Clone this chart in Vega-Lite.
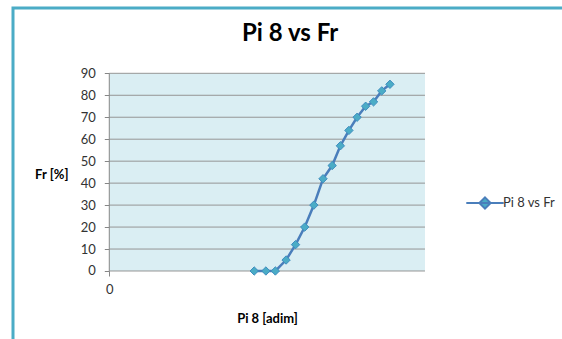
{
  "$schema": "https://vega.github.io/schema/vega-lite/v6.json",
  "usermeta": {"embedOptions": {"actions": false}},
  "autosize": {"type": "none"},
  "padding": {"left": 13, "top": 8, "right": -91, "bottom": -69},
  "width": 640,
  "height": 400,
  "background": "white",
  "config": {
    "view": {"stroke": "#4BACC6", "strokeWidth": 3, "fill": "white"},
    "font": "Lato"
  },
  "title": {
    "text": "Pi 8 vs Fr",
    "fontSize": 24,
    "fontWeight": "bold",
    "font": "Lato",
    "color": "#000000",
    "anchor": "start",
    "frame": "group",
    "offset": -57,
    "baseline": "alphabetic",
    "dx": 229
  },
  "datasets": {
    "series": [
      {"x": 0.459, "fr": 0, "series": "Pi 8 vs Fr"},
      {"x": 0.496, "fr": 0, "series": "Pi 8 vs Fr"},
      {"x": 0.526, "fr": 0, "series": "Pi 8 vs Fr"},
      {"x": 0.560, "fr": 5, "series": "Pi 8 vs Fr"},
      {"x": 0.590, "fr": 12, "series": "Pi 8 vs Fr"},
      {"x": 0.619, "fr": 20, "series": "Pi 8 vs Fr"},
      {"x": 0.648, "fr": 30, "series": "Pi 8 vs Fr"},
      {"x": 0.677, "fr": 42, "series": "Pi 8 vs Fr"},
      {"x": 0.706, "fr": 48, "series": "Pi 8 vs Fr"},
      {"x": 0.732, "fr": 57, "series": "Pi 8 vs Fr"},
      {"x": 0.759, "fr": 64, "series": "Pi 8 vs Fr"},
      {"x": 0.785, "fr": 70, "series": "Pi 8 vs Fr"},
      {"x": 0.812, "fr": 75, "series": "Pi 8 vs Fr"},
      {"x": 0.837, "fr": 77, "series": "Pi 8 vs Fr"},
      {"x": 0.863, "fr": 82, "series": "Pi 8 vs Fr"},
      {"x": 0.889, "fr": 85, "series": "Pi 8 vs Fr"}
    ],
    "grid": [
      {"v": 0}, {"v": 10}, {"v": 20}, {"v": 30}, {"v": 40},
      {"v": 50}, {"v": 60}, {"v": 70}, {"v": 80}, {"v": 90}
    ]
  },
  "layer": [
    {
      "data": {"values": [{}]},
      "mark": {"type": "rect", "fill": "#DAEEF3"},
      "encoding": {
        "x": {
          "datum": 0,
          "type": "quantitative",
          "scale": {"domain": [-0.305, 1.7222], "nice": false, "zero": false},
          "axis": {
            "values": [0],
            "format": "d",
            "offset": -137,
            "domain": false,
            "grid": false,
            "tickSize": 5,
            "tickColor": "#868686",
            "labelPadding": 7,
            "labelFontSize": 13,
            "labelColor": "#333333",
            "title": "Pi 8 [adim]",
            "titleFontSize": 13,
            "titleFontWeight": "bold",
            "titleColor": "#000000",
            "titleX": 254,
            "titleY": 51,
            "titleAlign": "center",
            "titleBaseline": "alphabetic"
          }
        },
        "x2": {"datum": 1},
        "y": {
          "datum": 0,
          "type": "quantitative",
          "scale": {"domain": [-62.37, 119.73], "nice": false, "zero": false},
          "axis": {
            "values": [0, 10, 20, 30, 40, 50, 60, 70, 80, 90],
            "offset": -96.3,
            "domain": false,
            "grid": false,
            "tickSize": 5,
            "tickColor": "#868686",
            "labelPadding": 9,
            "labelFontSize": 13,
            "labelColor": "#333333",
            "title": "Fr [%]",
            "titleAngle": 0,
            "titleX": -58,
            "titleY": 166.3,
            "titleAlign": "center",
            "titleBaseline": "middle",
            "titleFontSize": 13,
            "titleFontWeight": "bold",
            "titleColor": "#000000"
          }
        },
        "y2": {"datum": 90}
      }
    },
    {
      "data": {"name": "grid"},
      "mark": {"type": "rule", "color": "#959595", "strokeWidth": 1},
      "encoding": {
        "y": {"field": "v", "type": "quantitative"},
        "x": {"datum": 0, "type": "quantitative"},
        "x2": {"datum": 1}
      }
    },
    {
      "data": {"values": [{}]},
      "mark": {"type": "rule", "color": "#868686", "strokeWidth": 1},
      "encoding": {
        "x": {"datum": 0, "type": "quantitative"},
        "y": {"datum": 0, "type": "quantitative"},
        "y2": {"datum": 90}
      }
    },
    {
      "data": {"name": "series"},
      "mark": {"type": "line", "strokeWidth": 2.5},
      "encoding": {
        "x": {"field": "x", "type": "quantitative"},
        "y": {"field": "fr", "type": "quantitative"},
        "color": {
          "field": "series",
          "type": "nominal",
          "scale": {"domain": ["Pi 8 vs Fr"], "range": ["#4A7EBB"]},
          "legend": {
            "orient": "none",
            "legendX": 452,
            "legendY": 175,
            "title": null,
            "padding": 0,
            "symbolType": "M-1,0L1,0M0,-0.3L0.3,0L0,0.3L-0.3,0Z",
            "symbolSize": 1400,
            "symbolStrokeWidth": 2,
            "symbolFillColor": "#4BACC6",
            "labelFontSize": 13,
            "labelColor": "#333333",
            "labelOffset": -2
          }
        }
      }
    },
    {
      "data": {"name": "series"},
      "mark": {"type": "point", "shape": "diamond", "filled": true, "size": 70, "fill": "#4BACC6", "stroke": "#3F8DBF", "strokeWidth": 1, "opacity": 1},
      "encoding": {
        "x": {"field": "x", "type": "quantitative"},
        "y": {"field": "fr", "type": "quantitative"}
      }
    }
  ]
}
